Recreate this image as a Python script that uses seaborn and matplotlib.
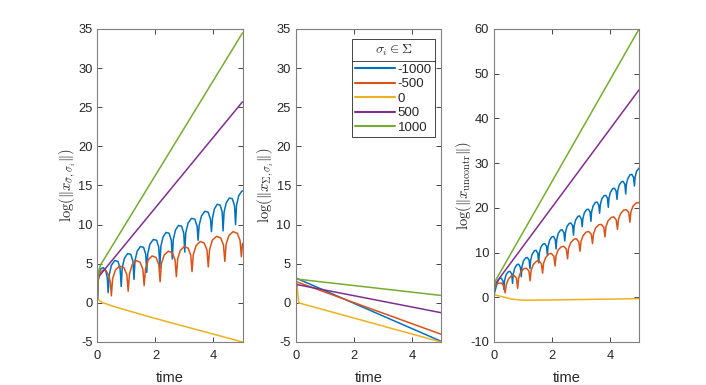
import numpy as np
import pandas as pd
import seaborn as sns
import matplotlib
matplotlib.use("Agg")
import matplotlib.pyplot as plt
from matplotlib.lines import Line2D

# sigma values (legend) and MATLAB default colours
sigmas = ["-1000", "-500", "0", "500", "1000"]
colors = ["#0072BD", "#D95319", "#EDB120", "#7E2F8E", "#77AC30"]

# ---- panel 1: log(||x_{sigmabar,sigma_i}||) ----
t_blue1 = [0, 0.02, 0.06, 0.13, 0.2, 0.28, 0.34, 0.37,
           0.41, 0.48, 0.595, 0.71, 0.78, 0.82,
           0.855, 0.93, 1.04, 1.15, 1.225, 1.26,
           1.295, 1.37, 1.48, 1.59, 1.665, 1.70,
           1.735, 1.81, 1.925, 2.04, 2.115, 2.15,
           2.185, 2.26, 2.365, 2.47, 2.545, 2.58,
           2.615, 2.69, 2.795, 2.90, 2.975, 3.01,
           3.045, 3.125, 3.24, 3.355, 3.435, 3.47,
           3.505, 3.585, 3.70, 3.815, 3.895, 3.93,
           3.965, 4.03, 4.13, 4.23, 4.30, 4.33,
           4.365, 4.44, 4.545, 4.65, 4.725, 4.76,
           4.795, 4.87, 4.98, 5.0]
y_blue1 = [0.5, 3.4, 4.0, 4.4, 4.5, 4.2, 3.2, 1.3,
           3.6, 4.8, 5.4, 5.3, 4.4, 2.1,
           4.5, 5.7, 6.3, 6.2, 5.3, 3.0,
           5.4, 6.6, 7.2, 7.1, 6.2, 3.9,
           6.3, 7.5, 8.1, 8.0, 7.1, 4.4,
           7.2, 8.4, 9.0, 8.9, 8.0, 5.6,
           8.1, 9.3, 9.9, 9.8, 8.9, 6.5,
           9.0, 10.2, 10.8, 10.7, 9.8, 8.0,
           9.9, 11.1, 11.7, 11.6, 10.7, 9.1,
           10.8, 12.0, 12.6, 12.5, 11.6, 9.2,
           11.6, 12.8, 13.4, 13.3, 12.4, 10.0,
           12.5, 13.7, 14.3, 14.3]
t_red1 = [0, 0.03, 0.1, 0.2, 0.3, 0.4, 0.45, 0.48,
          0.525, 0.62, 0.77, 0.915, 1.015, 1.06,
          1.105, 1.20, 1.335, 1.47, 1.565, 1.61,
          1.655, 1.75, 1.885, 2.02, 2.115, 2.16,
          2.205, 2.30, 2.44, 2.58, 2.675, 2.72,
          2.765, 2.855, 2.99, 3.125, 3.215, 3.26,
          3.305, 3.40, 3.54, 3.68, 3.775, 3.82,
          3.865, 3.96, 4.105, 4.25, 4.345, 4.39,
          4.435, 4.53, 4.675, 4.82, 4.915, 4.96,
          5.0]
y_red1 = [0.5, 3.2, 3.9, 4.2, 4.1, 3.4, 2.5, 0.9,
          3.1, 4.2, 4.7, 4.5, 3.6, 1.5,
          3.7, 4.9, 5.4, 5.2, 4.3, 2.2,
          4.3, 5.5, 6.0, 5.8, 4.9, 2.7,
          5.0, 6.1, 6.6, 6.4, 5.5, 3.35,
          5.6, 6.7, 7.2, 7.0, 6.1, 4.0,
          6.2, 7.3, 7.85, 7.65, 6.75, 4.6,
          6.8, 8.0, 8.5, 8.3, 7.4, 5.3,
          7.5, 8.6, 9.1, 8.9, 8.0, 5.9,
          7.6]
t_yel1 = [0, 0.1, 0.2, 0.6, 1.06, 2.0, 3.0, 4.0, 5.0]
y_yel1 = [0.5, 0.2, 0.0, -0.5, -1.0, -2.0, -3.0, -4.0, -5.0]
t_pur1 = [0, 0.02, 0.06, 0.1, 5.0]
y_pur1 = [0.5, 2.8, 3.4, 3.6, 25.7]
t_grn1 = [0, 0.02, 0.06, 0.1, 5.0]
y_grn1 = [0.5, 3.0, 4.3, 4.8, 34.5]

# ---- panel 2: log(||x_{Sigma,sigma_i}||) ----
t_blue2 = [0, 0.02, 5.0]
y_blue2 = [0.5, 3.15, -4.9]
t_red2 = [0, 0.02, 5.0]
y_red2 = [0.5, 2.7, -4.0]
t_yel2 = [0, 0.03, 0.1, 5.0]
y_yel2 = [0.5, 2.6, 0.0, -5.0]
t_pur2 = [0, 0.02, 5.0]
y_pur2 = [0.5, 2.35, -1.25]
t_grn2 = [0, 0.02, 5.0]
y_grn2 = [0.5, 3.05, 0.95]

# ---- panel 3: log(||x_uncontr||) ----
t_blue3 = [0, 0.04,
           0.064, 0.115, 0.19, 0.25, 0.31, 0.34,
           0.364, 0.415, 0.49, 0.55, 0.61, 0.64,
           0.664, 0.715, 0.79, 0.85, 0.91, 0.94,
           0.964, 1.015, 1.09, 1.15, 1.21, 1.24,
           1.264, 1.315, 1.39, 1.45, 1.51, 1.54,
           1.564, 1.615, 1.69, 1.75, 1.81, 1.84,
           1.864, 1.915, 1.99, 2.05, 2.11, 2.14,
           2.164, 2.215, 2.29, 2.35, 2.41, 2.44,
           2.464, 2.515, 2.59, 2.65, 2.71, 2.74,
           2.764, 2.815, 2.89, 2.95, 3.01, 3.04,
           3.064, 3.115, 3.19, 3.25, 3.31, 3.34,
           3.364, 3.415, 3.49, 3.55, 3.61, 3.64,
           3.664, 3.715, 3.79, 3.85, 3.91, 3.94,
           3.964, 4.015, 4.09, 4.15, 4.21, 4.24,
           4.264, 4.315, 4.39, 4.45, 4.51, 4.54,
           4.564, 4.615, 4.69, 4.75, 4.81, 4.84,
           4.864, 4.915, 5.0]
y_blue3 = [0.5, 1.5,
           2.1, 3.4, 4.2, 4.3, 3.6, 1.8,
           3.7, 5.0, 5.7, 5.8, 5.2, 3.1,
           5.2, 6.5, 7.3, 7.4, 6.7, 4.6,
           6.8, 8.1, 8.8, 8.9, 8.3, 6.4,
           8.3, 9.6, 10.4, 10.5, 9.8, 7.7,
           9.9, 11.2, 11.9, 12.0, 11.4, 9.4,
           11.4, 12.7, 13.5, 13.6, 12.9, 10.8,
           12.9, 14.3, 15.0, 15.1, 14.4, 12.6,
           14.5, 15.8, 16.5, 16.6, 16.0, 13.9,
           16.0, 17.3, 18.1, 18.2, 17.5, 15.8,
           17.6, 18.9, 19.6, 19.7, 19.1, 17.0,
           19.1, 20.4, 21.2, 21.3, 20.6, 18.8,
           20.7, 22.0, 22.7, 22.8, 22.2, 20.1,
           22.2, 23.5, 24.3, 24.4, 23.7, 21.9,
           23.8, 25.1, 25.8, 25.9, 25.3, 23.1,
           25.3, 26.6, 27.4, 27.5, 26.8, 24.9,
           26.9, 28.2, 28.9]
t_red3 = [0, 0.02, 0.08, 0.17, 0.25, 0.34, 0.385,
          0.419, 0.4925, 0.60, 0.686, 0.772, 0.815,
          0.849, 0.9225, 1.03, 1.116, 1.202, 1.245,
          1.279, 1.3525, 1.46, 1.546, 1.632, 1.675,
          1.709, 1.7825, 1.89, 1.976, 2.062, 2.105,
          2.139, 2.2125, 2.32, 2.406, 2.492, 2.535,
          2.569, 2.6425, 2.75, 2.836, 2.922, 2.965,
          2.999, 3.0725, 3.18, 3.266, 3.352, 3.395,
          3.429, 3.5025, 3.61, 3.696, 3.782, 3.825,
          3.859, 3.9325, 4.04, 4.126, 4.212, 4.255,
          4.289, 4.3625, 4.47, 4.556, 4.642, 4.685,
          4.719, 4.7925, 4.90, 4.986, 5.0]
y_red3 = [0.5, 2.2, 2.9, 3.15, 3.2, 2.6, 1.0,
          2.7, 4.0, 4.8, 4.9, 4.3, 2.0,
          4.3, 5.7, 6.4, 6.5, 5.9, 3.7,
          6.0, 7.3, 8.05, 8.2, 7.5, 5.4,
          7.6, 8.9, 9.7, 9.8, 9.2, 7.0,
          9.3, 10.6, 11.3, 11.4, 10.8, 8.6,
          10.9, 12.2, 12.95, 13.1, 12.4, 10.3,
          12.5, 13.8, 14.6, 14.7, 14.1, 12.0,
          14.2, 15.5, 16.2, 16.3, 15.7, 13.5,
          15.8, 17.1, 17.85, 18.0, 17.3, 15.2,
          17.4, 18.7, 19.5, 19.6, 19.0, 16.8,
          19.1, 20.4, 21.1, 21.2, 21.0]
t_yel3 = [0, 0.3, 0.6, 1.0, 2.0, 3.0, 4.0, 5.0]
y_yel3 = [0.6, 0.1, -0.4, -0.65, -0.6, -0.5, -0.4, -0.3]
t_pur3 = [0, 0.02, 0.06, 0.1, 5.0]
y_pur3 = [0.5, 2.3, 3.2, 3.5, 46.4]
t_grn3 = [0, 0.02, 0.06, 0.1, 5.0]
y_grn3 = [0.5, 2.5, 3.8, 4.3, 60.0]

ylabels = [r"$\log(\|x_{\bar{\sigma},\sigma_i}\|)$",
           r"$\log(\|x_{\Sigma,\sigma_i}\|)$",
           r"$\log(\|x_{\mathrm{uncontr}}\|)$"]


def make_frame(pairs):
    parts = []
    for lab, (tt, yy) in zip(sigmas, pairs):
        parts.append(pd.DataFrame({"time": tt, "value": yy, "sigma": lab}))
    return pd.concat(parts, ignore_index=True)


panels = [
    make_frame([(t_blue1, y_blue1), (t_red1, y_red1), (t_yel1, y_yel1),
                (t_pur1, y_pur1), (t_grn1, y_grn1)]),
    make_frame([(t_blue2, y_blue2), (t_red2, y_red2), (t_yel2, y_yel2),
                (t_pur2, y_pur2), (t_grn2, y_grn2)]),
    make_frame([(t_blue3, y_blue3), (t_red3, y_red3), (t_yel3, y_yel3),
                (t_pur3, y_pur3), (t_grn3, y_grn3)]),
]

sns.set_theme(style="ticks")
plt.rcParams["font.family"] = ["Liberation Sans", "DejaVu Sans"]
plt.rcParams["mathtext.fontset"] = "cm"
plt.rcParams["axes.unicode_minus"] = False
plt.rcParams["xtick.direction"] = "in"
plt.rcParams["ytick.direction"] = "in"
plt.rcParams["xtick.top"] = True
plt.rcParams["ytick.right"] = True

fig = plt.figure(figsize=(7.06, 3.85), dpi=100)
lefts = [0.138, 0.419, 0.6997]
ylims = [(-5, 35), (-5, 35), (-10, 60)]
yticks = [np.arange(-5, 36, 5), np.arange(-5, 36, 5), np.arange(-10, 61, 10)]
edge = "#262626"

axes = []
for i, df in enumerate(panels):
    ax = fig.add_axes([lefts[i], 0.1117, 0.2055, 0.813])
    sns.lineplot(data=df, x="time", y="value", hue="sigma", hue_order=sigmas,
                 palette=colors, estimator=None, sort=False, linewidth=1.1,
                 legend=(i == 1), ax=ax)
    ax.set_xlim(0, 5)
    ax.set_ylim(*ylims[i])
    ax.set_xticks([0, 2, 4])
    ax.set_yticks(yticks[i])
    ax.set_xlabel("time", fontsize=10.5, color=edge, labelpad=7)
    ax.set_ylabel(ylabels[i], fontsize=10.5, color=edge)
    ax.yaxis.set_label_coords(-0.135, 0.5)
    ax.tick_params(labelsize=9.3, colors=edge, length=3.5, width=0.6)
    ax.tick_params(axis="x", pad=5.5)
    for sp in ax.spines.values():
        sp.set_color("#7f7f7f")
        sp.set_linewidth(0.8)
    axes.append(ax)

ax2 = axes[1]
handles, labels = ax2.get_legend_handles_labels()
leg = ax2.legend(handles, labels, title=r"$\sigma_i \in \Sigma$", loc="upper right",
                 bbox_to_anchor=(0.9586, 0.967), borderaxespad=0, fontsize=9.5,
                 title_fontsize=10, frameon=True, fancybox=False, framealpha=1,
                 edgecolor=edge, handlelength=3.0, handletextpad=0.2,
                 labelspacing=0.17, borderpad=0.25)
leg.get_frame().set_linewidth(0.6)
for h in leg.get_lines():
    h.set_linewidth(1.5)
# extra room between the title and the entries
leg._legend_box.sep = 4.0

# separator under the legend title (MATLAB style)
fig.canvas.draw()
rend = fig.canvas.get_renderer()
tb = leg.get_title().get_window_extent(rend)
first = leg.get_texts()[0].get_window_extent(rend)
fb = leg.get_frame().get_window_extent(rend)
ymid = 0.5 * (tb.y0 + first.y1)
inv = fig.transFigure.inverted()
x0, ysep = inv.transform((fb.x0, ymid))
x1, _ = inv.transform((fb.x1, ymid))
fig.add_artist(Line2D([x0, x1], [ysep, ysep], color=edge, linewidth=0.6,
                      transform=fig.transFigure))

fig.savefig("out.png", dpi=100)
